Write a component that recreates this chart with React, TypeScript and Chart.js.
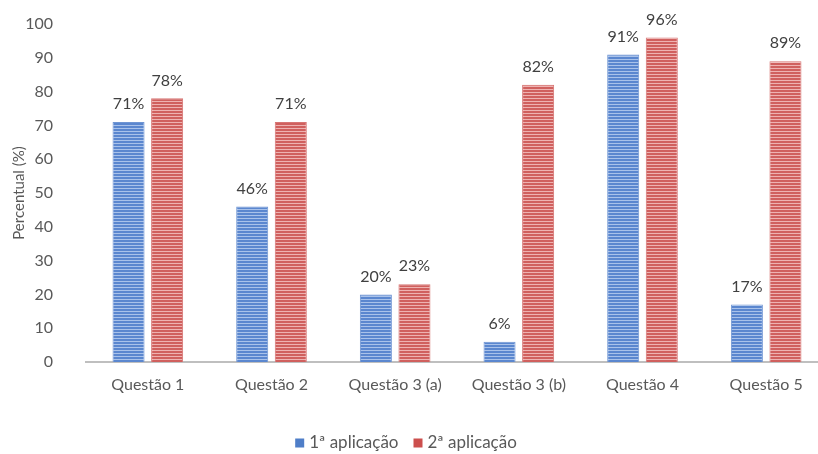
import React, { useEffect, useRef } from "react";
import { Chart, registerables } from "chart.js";

Chart.register(...registerables);

const categories = ["Questão 1", "Questão 2", "Questão 3 (a)", "Questão 3 (b)", "Questão 4", "Questão 5"];
const series1Label = "1ª aplicação";
const series2Label = "2ª aplicação";
const series1 = [71, 46, 20, 6, 91, 17];
const series2 = [78, 71, 23, 82, 96, 89];
const yTicks = [0, 10, 20, 30, 40, 50, 60, 70, 80, 90, 100];

const legendColors = ["#4f7ec8", "#cc4f4d"];

function stripe(base: string, light: string) {
  const c = document.createElement("canvas");
  c.width = 1;
  c.height = 3;
  const g = c.getContext("2d")!;
  g.fillStyle = base;
  g.fillRect(0, 0, 1, 2);
  g.fillStyle = light;
  g.fillRect(0, 2, 1, 1);
  return g.createPattern(c, "repeat")!;
}

const FONT = "Lato, 'Open Sans', sans-serif";

const labelPlugin = {
  id: "valueLabels",
  afterDatasetsDraw(chart: any) {
    const ctx = chart.ctx;
    ctx.save();
    ctx.font = `16px ${FONT}`;
    ctx.fillStyle = "#404040";
    ctx.textAlign = "center";
    ctx.textBaseline = "bottom";
    chart.data.datasets.forEach((ds: any, i: number) => {
      const meta = chart.getDatasetMeta(i);
      meta.data.forEach((bar: any, j: number) => {
        ctx.fillText(ds.data[j] + "%", bar.x, bar.y - 10);
      });
    });
    ctx.restore();
  },
};

const legendPlugin = {
  id: "customLegend",
  afterDraw(chart: any) {
    const ctx = chart.ctx;
    ctx.save();
    ctx.font = `17px ${FONT}`;
    ctx.textBaseline = "middle";
    ctx.textAlign = "left";
    const labels = [series1Label, series2Label];
    const box = 9;
    const gapText = 5;
    const gapItem = 15;
    const widths = labels.map((t) => ctx.measureText(t).width);
    const total = widths.reduce((a, w) => a + box + gapText + w, 0) + gapItem;
    let x = 406 - total / 2;
    const y = 443;
    labels.forEach((t, i) => {
      ctx.fillStyle = legendColors[i];
      ctx.fillRect(x, y - box / 2, box, box);
      x += box + gapText;
      ctx.fillStyle = "#595959";
      ctx.fillText(t, x, y);
      x += widths[i] + gapItem;
    });
    ctx.restore();
  },
};

export default function App() {
  const ref = useRef<HTMLCanvasElement>(null);
  useEffect(() => {
    const blue = stripe("#5b87cf", "#a9c2ea");
    const red = stripe("#d0605e", "#eeb2b1");
    const chart = new Chart(ref.current!, {
      type: "bar",
      data: {
        labels: categories,
        datasets: [
          {
            label: series1Label,
            data: series1,
            backgroundColor: blue,
            borderColor: "#6f95d3",
            borderWidth: { left: 1, right: 1, top: 1, bottom: 0 } as any,
            categoryPercentage: 0.624,
            barPercentage: 0.83,
          },
          {
            label: series2Label,
            data: series2,
            backgroundColor: red,
            borderColor: "#d77573",
            borderWidth: { left: 1, right: 1, top: 1, bottom: 0 } as any,
            categoryPercentage: 0.624,
            barPercentage: 0.83,
          },
        ],
      },
      options: {
        animation: false,
        responsive: false,
        layout: { padding: { top: 24, right: 0, left: 0, bottom: 0 } },
        plugins: {
          tooltip: { enabled: false },
          legend: { display: false },
        },
        scales: {
          x: {
            grid: { display: false, drawTicks: false },
            border: { display: true, color: "#bfbfbf", width: 2 },
            ticks: { color: "#595959", font: { family: FONT, size: 16 }, padding: 13, maxRotation: 0 },
            afterFit: (s: any) => {
              s.height = 92;
            },
          },
          y: {
            min: 0,
            max: 100,
            afterBuildTicks: (s: any) => {
              s.ticks = yTicks.map((v) => ({ value: v }));
            },
            grid: { display: false, drawTicks: true, tickLength: 33 },
            border: { display: false },
            ticks: { color: "#595959", font: { family: FONT, size: 16 }, padding: 0 },
            title: {
              display: true,
              text: "Percentual (%)",
              color: "#595959",
              font: { family: FONT, size: 15 },
              padding: { top: 10, bottom: 0 },
            },
            afterFit: (s: any) => {
              s.width = 86;
            },
          },
        },
      },
      plugins: [labelPlugin, legendPlugin],
    });
    return () => chart.destroy();
  }, []);
  return (
    <div style={{ position: "fixed", left: 0, top: 0, width: 818, height: 454, overflow: "hidden", background: "#fff" }}>
      <canvas ref={ref} width={828} height={454} style={{ display: "block" }} />
    </div>
  );
}
